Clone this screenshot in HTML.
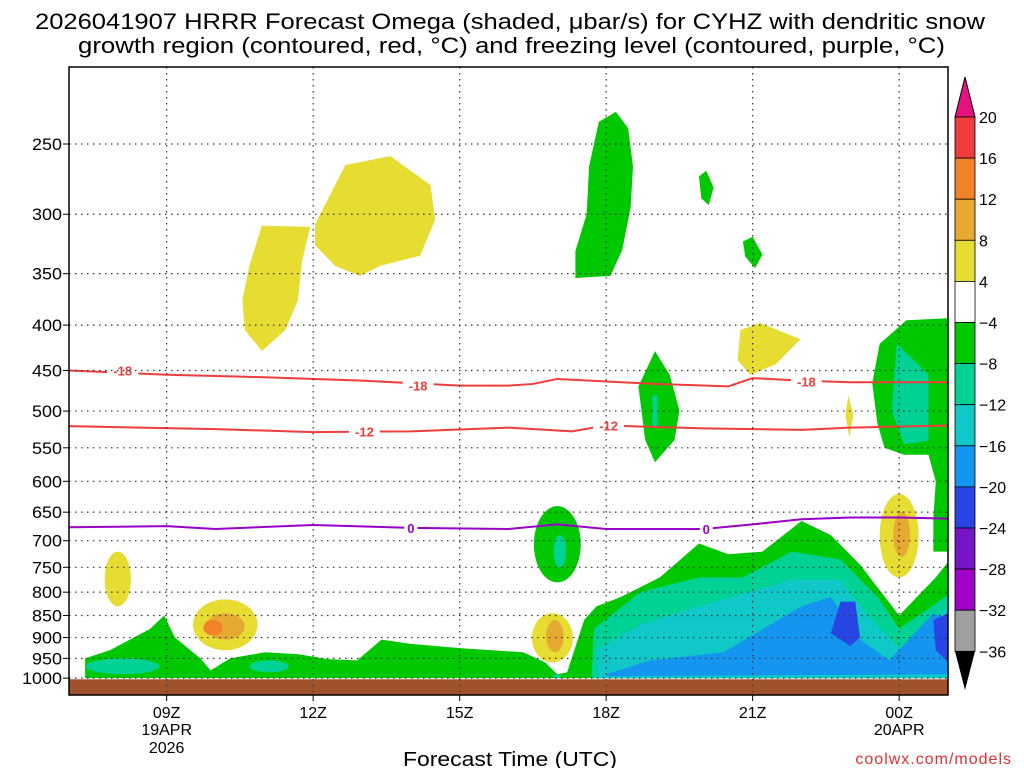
<!DOCTYPE html>
<html><head><meta charset="utf-8"><style>
body{margin:0;background:#fff;}
svg{display:block;font-family:"Liberation Sans",sans-serif;}
</style></head><body>
<svg id="chart" width="1024" height="768" xmlns="http://www.w3.org/2000/svg">
<text x="35" y="29" font-size="22" textLength="950" lengthAdjust="spacingAndGlyphs">2026041907 HRRR Forecast Omega (shaded, μbar/s) for CYHZ with dendritic snow</text>
<text x="78" y="53" font-size="22" textLength="867" lengthAdjust="spacingAndGlyphs">growth region (contoured, red, °C) and freezing level (contoured, purple, °C)</text>
<g id="plot"></g>
<text x="403" y="766" font-size="20" textLength="214" lengthAdjust="spacingAndGlyphs">Forecast Time (UTC)</text>
<text x="1012" y="764" text-anchor="end" font-size="16" fill="#e03030" letter-spacing="1">coolwx.com/models</text>
<g id="cbar"></g>
</svg>
<script>
const pTicks=[250,300,350,400,450,500,550,600,650,700,750,800,850,900,950,1000];
const hTicks=[2,5,8,11,14,17];
const hLabels=["09Z","12Z","15Z","18Z","21Z","00Z"];
const cbLevels=[20,16,12,8,4,-4,-8,-12,-16,-20,-24,-28,-32,-36];
const cbColors=["#f03c3c","#f08228","#e6aa32","#e6dc32","#ffffff","#00c800","#00d296","#10c8c8","#1496f0","#2846e6","#7814c8","#a000c8","#a0a0a0"];
// polygons: [hour since 07Z, hPa]
const yellowA=[[3.95,309],[4.94,310],[4.77,339],[4.69,375],[4.43,405],[3.95,428],[3.6,405],[3.55,375],[3.7,342]];
const yellowB=[[5.04,308],[5.66,264],[6.58,258],[7.4,278],[7.5,304],[7.19,334],[6.37,343],[5.96,352],[5.45,343],[5.04,325]];
const green18=[[10.85,236],[11.2,230],[11.45,240],[11.55,265],[11.5,295],[11.33,329],[11.09,352],[10.37,354],[10.37,330],[10.6,300],[10.65,265]];
const greenS1=[[12.9,272],[13.05,268],[13.2,280],[13.1,293],[12.95,288]];
const greenS2=[[13.8,322],[14.0,318],[14.2,333],[14.05,345],[13.85,335]];
const yellow21=[[13.75,405],[14.16,398],[14.98,415],[14.47,443],[13.95,455],[13.69,438]];
const green19=[[12.0,428],[12.3,455],[12.5,499],[12.4,539],[12.0,571],[11.8,539],[11.66,469]];
const teal19=[[11.95,480],[12.05,480],[12.05,520],[11.95,520]];
const greenRight=[[18,393],[17.15,395],[16.6,420],[16.45,465],[16.55,515],[16.7,550],[17.1,560],[17.6,560],[17.75,600],[17.7,660],[17.7,720],[18,720]];
const tealRight=[[16.95,420],[17.6,455],[17.6,540],[17.1,545],[16.85,500]];
const yellowThin=[[15.96,480],[16.06,505],[15.98,535],[15.9,505]];
const greenBottom=[[0.33,1000],[0.33,950],[0.84,930],[1.66,880],[1.95,850],[2.17,900],[2.69,950],[2.9,980],[3.3,950],[4.02,935],[4.7,940],[5.3,952],[5.9,955],[6.4,905],[7.0,915],[8.0,925],[9.3,935],[9.75,960],[10.0,990],[10.2,985],[10.55,860],[10.8,830],[11.3,810],[12.1,770],[12.9,705],[13.5,725],[14.2,720],[15.0,665],[15.6,690],[16.2,745],[17.0,850],[17.75,770],[18,740],[18,1000]];
const tealBottom=[[10.7,1000],[10.75,880],[11.7,800],[12.9,770],[13.8,770],[14.8,720],[15.8,735],[16.6,815],[17.0,880],[17.6,835],[18,805],[18,1000]];
const cyanBottom=[[10.85,1000],[10.8,930],[11.7,870],[12.9,830],[14.8,775],[15.8,775],[16.4,855],[17.0,925],[18,830],[18,1000]];
const blueBottom=[[11.0,990],[11.9,955],[13.4,935],[15.0,830],[15.6,810],[16.2,905],[16.8,955],[17.7,845],[18,860],[18,990],[11.0,995]];
const darkBlue1=[[15.8,820],[16.1,820],[16.2,900],[16.0,920],[15.6,890]];
const darkBlue2=[[17.7,860],[18,845],[18,960],[17.75,930]];
// ellipses: [centerHour, halfWidthHours, pTop, pBottom]
const ellYellow=[[1.0,0.27,720,830],[3.2,0.66,815,930],[9.9,0.42,845,960],[17.0,0.4,620,770]];
const ellOrange=[[3.2,0.4,845,905],[9.95,0.18,860,935],[17.05,0.17,650,730]];
const ellDkOrange=[[2.95,0.2,860,895]];
const ellTeal=[[1.1,0.75,950,990],[4.1,0.4,955,985],[10.0,0.08,990,1000]];
const greenEll=[[10.0,0.48,640,780]];
const tealEll=[[10.05,0.13,690,750]];
// contour lines
const lineHours=[0,2,4,6,8,9,9.5,10,12,13.5,14,15,16,18];
const m18=[450,455,458,462,468,468,466,460,466,469,459,462,464,464];
const m12Hours=[0,3,5,7,9,10.3,11,13,15,16,18];
const m12=[520,524,528,527,522,527,519,523,525,522,519];
const fzHours=[0,2,3,5,7,9,10,11,13,14,15,16,17,18];
const fz=[676,674,679,672,677,679,671,679,679,671,662,659,659,661];
const labels=[["-18",1.1,450,"#f03c3c"],["-18",7.15,468,"#f03c3c"],["-18",15.1,463,"#f03c3c"],["-12",6.05,527,"#f03c3c"],["-12",11.05,519,"#f03c3c"],["0",7.0,677,"#9a00c8"],["0",13.05,679,"#9a00c8"]];

const X0=69,X1=948,Y0=67,Y1=695;
const x=h=>X0+h*(X1-X0)/18;
const y=p=>144+(Math.log(p)-Math.log(250))*385.3;
const NS="http://www.w3.org/2000/svg";
const plot=document.getElementById('plot');
function mk(tag,at,parent){const e=document.createElementNS(NS,tag);for(const k in at)e.setAttribute(k,at[k]);(parent||plot).appendChild(e);return e;}
const defs=mk('defs',{});
const cp=mk('clipPath',{id:'clip'},defs);mk('rect',{x:X0,y:Y0,width:X1-X0,height:Y1-Y0},cp);
const g=mk('g',{'clip-path':'url(#clip)'});
function poly(pts,fill,name){const e=mk('polygon',{points:pts.map(d=>x(d[0])+','+y(Math.min(d[1],1045))).join(' '),fill:fill},g);

}
function ell(d,fill,name){const e=mk('ellipse',{cx:x(d[0]),cy:(y(d[2])+y(d[3]))/2,rx:d[1]*(X1-X0)/18,ry:(y(d[3])-y(d[2]))/2,fill:fill},g);

}
const Y4="#e6dc32",GR="#00c800",TL="#00d296",CY="#10c8c8",BL="#1496f0",DB="#2846e6";
poly(greenBottom,GR,'omega-green-lower');
poly(tealBottom,TL,'omega-teal-lower');
poly(cyanBottom,CY,'omega-cyan-lower');
poly(blueBottom,BL,'omega-blue-lower');
poly(darkBlue1,DB,'omega-darkblue-1');
poly(darkBlue2,DB,'omega-darkblue-2');
ellTeal.forEach(d=>ell(d,TL,'omega-teal-patch'));
poly(yellowA,Y4,'omega-yellow-a');
poly(yellowB,Y4,'omega-yellow-b');
poly(green18,GR,'omega-green-18z');
poly(greenS1,GR,'omega-green-small-1');
poly(greenS2,GR,'omega-green-small-2');
poly(yellow21,Y4,'omega-yellow-21z');
poly(green19,GR,'omega-green-19z');
poly(teal19,TL,'omega-teal-19z');
poly(greenRight,GR,'omega-green-right');
poly(tealRight,TL,'omega-teal-right');
poly(yellowThin,Y4,'omega-yellow-thin');
greenEll.forEach(d=>ell(d,GR,'omega-green-17z'));
tealEll.forEach(d=>ell(d,TL,'omega-teal-17z'));
ellYellow.forEach(d=>ell(d,Y4,'omega-yellow-patch'));
ellOrange.forEach(d=>ell(d,"#e6aa32",'omega-orange-patch'));
ellDkOrange.forEach(d=>ell(d,"#f08228",'omega-darkorange-patch'));
// ground
const gr=mk('rect',{x:X0,y:y(1003),width:X1-X0,height:Y1-y(1003),fill:'#a0522d'},g);


// grid
pTicks.forEach(p=>{const l=mk('line',{x1:X0,x2:X1,y1:y(p),y2:y(p),stroke:'#333','stroke-width':1.2,'stroke-dasharray':'1.5,4.5'});


const s=String(p);
const t=mk('text',{x:62-s.length*10,y:y(p)+6,'font-size':17,textLength:s.length*10,lengthAdjust:'spacingAndGlyphs'});t.textContent=s;


mk('line',{x1:X0-6,x2:X0,y1:y(p),y2:y(p),stroke:'#000'});});
hTicks.forEach((h,i)=>{const l=mk('line',{x1:x(h),x2:x(h),y1:Y0,y2:Y1,stroke:'#333','stroke-width':1.2,'stroke-dasharray':'1.5,4.5'});


mk('line',{x1:x(h),x2:x(h),y1:Y1,y2:Y1+6,stroke:'#000'});
const t=mk('text',{x:x(h),y:718,'text-anchor':'middle','font-size':16});t.textContent=hLabels[i];

});
[["19APR",2,735],["2026",2,753],["20APR",17,735]].forEach(d=>{const t=mk('text',{x:x(d[1]),y:d[2],'text-anchor':'middle','font-size':16});t.textContent=d[0];

});
// contour lines
function line(hs,ps,col,name){const e=mk('polyline',{points:hs.map((h,i)=>x(h)+','+y(ps[i])).join(' '),fill:'none',stroke:col,'stroke-width':2},g);

}
line(lineHours,m18,'#f03c3c','contour-minus18');
line(m12Hours,m12,'#f03c3c','contour-minus12');
line(fzHours,fz,'#9a00c8','freezing-level-0');
labels.forEach(d=>{const w=d[0].length*9+4;mk('rect',{x:x(d[1])-w/2,y:y(d[2])-7,width:w,height:14,fill:'#fff'},g);
const t=mk('text',{x:x(d[1]),y:y(d[2])+5,'text-anchor':'middle','font-size':13,'font-weight':'bold',fill:d[3]},g);t.textContent=d[0];

});
mk('rect',{x:X0,y:Y0,width:X1-X0,height:Y1-Y0,fill:'none',stroke:'#000','stroke-width':1.5});
// colorbar
const cb=document.getElementById('cbar');
const cy=i=>117+i*41.1;
mk('polygon',{points:`955,${cy(0)} 975,${cy(0)} 965,77`,fill:'#e6127f',stroke:'#000'},cb);
cbColors.forEach((c,i)=>{const r=mk('rect',{x:955,y:cy(i),width:20,height:41.1,fill:c,stroke:'#000','stroke-width':0.8},cb);

});
mk('polygon',{points:`955,${cy(13)} 975,${cy(13)} 965,690`,fill:'#000'},cb);
cbLevels.forEach((v,i)=>{const t=mk('text',{x:979,y:cy(i)+6,'font-size':16},cb);t.textContent=v<0?'−'+(-v):v;

});
</script>
</body></html>
